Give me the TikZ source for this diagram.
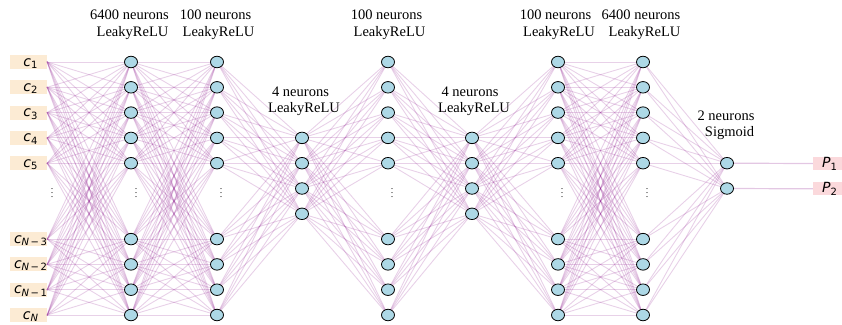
\documentclass[tikz,border=0pt]{standalone}
\usepackage{fontspec}
\setmainfont{Liberation Serif}
\newfontfamily\dv{DejaVu Sans}
\usetikzlibrary{shapes.geometric}
\definecolor{nfill}{HTML}{ADD8E6}
\definecolor{inbg}{HTML}{FCEBD4}
\definecolor{outbg}{HTML}{FBD9DC}
\definecolor{conncol}{HTML}{800080}
\pgfdeclarelayer{bg}
\pgfsetlayers{bg,main}
\newcommand\vlab[2]{{\fontsize{14}{14}\selectfont\dv\itshape #1}\raisebox{-2.5pt}{\fontsize{10}{10}\selectfont\dv #2}}
\newcommand\msub{\hspace{1.5pt}\symbol{"2212}\hspace{1.5pt}}
\tikzset{
  neuron/.style={ellipse, draw=black, fill=nfill, line width=0.8pt, minimum width=13pt, minimum height=11.5pt, inner sep=0pt},
  inbox/.style={rectangle, fill=inbg, minimum width=37pt, minimum height=14pt, inner sep=0pt},
  outbox/.style={rectangle, fill=outbg, minimum width=33pt, minimum height=13pt, inner sep=0pt},
  conn/.style={draw=conncol, draw opacity=0.18, line width=0.9pt},
  outconn/.style={draw=conncol, draw opacity=0.22, line width=1.2pt},
  lab/.style={font=\fontsize{14.5}{17}\selectfont, inner sep=0pt, anchor=base},
  dotsn/.style={font=\fontsize{10}{10}\selectfont, inner sep=0pt, text=black!85},
}
\begin{document}
\begin{tikzpicture}[x=1pt,y=-1pt]
\useasboundingbox (0,0) rectangle (842,324);
% big layers
\foreach \i/\k in {1/0,2/1,3/2,4/3,5/4,6/7,7/8,8/9,9/10}{
  \foreach \L/\x in {1/131,2/217,4/388,6/558,7/643}{
    \node[neuron] (L\L-\i) at (\x, 62+25.3*\k) {};
  }
}
% small layers
\foreach \i/\k in {1/3,2/4,3/5,4/6}{
  \foreach \L/\x in {3/302,5/472}{
    \node[neuron] (L\L-\i) at (\x, 62+25.3*\k) {};
  }
}
\foreach \i/\k in {1/4,2/5}{
  \node[neuron] (L8-\i) at (727, 62+25.3*\k) {};
}
% inputs
\foreach \i/\k/\s in {1/0/1,2/1/2,3/2/3,4/3/4,5/4/5,
    6/7/{{\itshape N}\msub 3},7/8/{{\itshape N}\msub 2},8/9/{{\itshape N}\msub 1},9/10/{\itshape N}}{
  \node[inbox] (c\i) at (28.5, 62+25.3*\k) {};
  \node[inner sep=0pt, anchor=base] (ct\i) at (30.5, 66+25.3*\k) {\vlab{c}{\s}};
  \fill[conncol!60] (c\i.east) circle (0.8pt);
}
% outputs
\node[outbox] (P1) at (829.5,163.5) {};
\node[inner sep=0pt, anchor=base] (Pt1) at (829.5,167.5) {\vlab{P}{1}};
\node[outbox] (P2) at (829.5,188.8) {};
\node[inner sep=0pt, anchor=base] (Pt2) at (829.5,192.8) {\vlab{P}{2}};
% dots
\node[dotsn] (d0) at (52,190) {$\vdots$};
\foreach \L/\x in {1/136,2/221,4/392,6/562,7/647}{
  \node[dotsn] (d\L) at (\x,190) {$\vdots$};
}
% labels
\node[lab] (t1a) at (129.5,19) {6400 neurons};
\node[lab] (t1b) at (132.5,36) {LeakyReLU};
\node[lab] (t2a) at (215.5,19) {100 neurons};
\node[lab] (t2b) at (218.5,36) {LeakyReLU};
\node[lab] (t3a) at (300.5,96) {4 neurons};
\node[lab] (t3b) at (304,112) {LeakyReLU};
\node[lab] (t4a) at (386.5,19) {100 neurons};
\node[lab] (t4b) at (389.5,36) {LeakyReLU};
\node[lab] (t5a) at (470,96) {4 neurons};
\node[lab] (t5b) at (474,112) {LeakyReLU};
\node[lab] (t6a) at (555.5,19) {100 neurons};
\node[lab] (t6b) at (559,36) {LeakyReLU};
\node[lab] (t7a) at (641,19) {6400 neurons};
\node[lab] (t7b) at (644.5,36) {LeakyReLU};
\node[lab] (t8a) at (726,120.5) {2 neurons};
\node[lab] (t8b) at (729.5,136) {Sigmoid};
% connectors
\begin{pgfonlayer}{bg}
\foreach \p in {1,...,9}{
  \foreach \q in {1,...,9}{
    \draw[conn] (c\p.east) -- (L1-\q.center);
  }
}
\foreach \a/\na/\b/\nb in {1/9/2/9, 2/9/3/4, 3/4/4/9, 4/9/5/4, 5/4/6/9, 6/9/7/9, 7/9/8/2}{
  \foreach \p in {1,...,\na}{
    \foreach \q in {1,...,\nb}{
      \draw[conn] (L\a-\p.center) -- (L\b-\q.center);
    }
  }
}
\draw[outconn] (L8-1.center) -- (P1.west);
\draw[outconn] (L8-2.center) -- (P2.west);
\end{pgfonlayer}
\end{tikzpicture}
\end{document}
